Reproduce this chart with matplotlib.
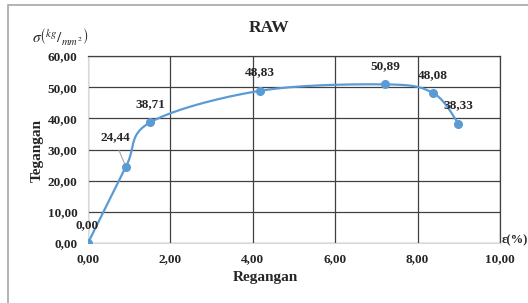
import numpy as np
import matplotlib.pyplot as plt
from matplotlib.ticker import FuncFormatter, MultipleLocator
from matplotlib.patches import Rectangle

# data
strain = [0.00, 0.92, 1.51, 4.17, 7.22, 8.38, 8.99]
stress = [0.00, 24.44, 38.71, 48.83, 50.89, 48.08, 38.33]
labels = ['0,00', '24,44', '38,71', '48,83', '50,89', '48,08', '38,33']
label_offsets = [(-1, 18), (-11, 30), (0, 18), (0, 19), (0, 18), (0, 18), (0, 18)]

blue = '#5B9BD5'
txt = '#262626'
plt.rcParams['font.family'] = ['Liberation Serif', 'DejaVu Serif']
plt.rcParams['mathtext.fontset'] = 'stix'


def smooth(xs, ys, sx, sy, n=30):
    # excel-like smoothed line (catmull-rom bezier in screen scale)
    p = np.column_stack([np.array(xs) * sx, np.array(ys) * sy])
    out = []
    for i in range(len(p) - 1):
        p0 = p[i - 1] if i > 0 else p[i]
        p3 = p[i + 2] if i + 2 < len(p) else p[i + 1]
        c1 = p[i] + (p[i + 1] - p0) / 6
        c2 = p[i + 1] - (p3 - p[i]) / 6
        t = np.linspace(0, 1, n)[:, None]
        seg = (1 - t) ** 3 * p[i] + 3 * (1 - t) ** 2 * t * c1 + 3 * (1 - t) * t ** 2 * c2 + t ** 3 * p[i + 1]
        out.append(seg)
    out = np.vstack(out)
    return out[:, 0] / sx, out[:, 1] / sy


fig = plt.figure(figsize=(5.28, 3.03), dpi=100)
ax = fig.add_axes([88 / 528, 1 - 243 / 303, 412 / 528, 187 / 303])

fig.patches.append(Rectangle((8 / 528, -0.1), 1.2, (303 - 5) / 303 + 0.1, transform=fig.transFigure,
                             fill=False, edgecolor='#a6a6a6', linewidth=1.2))

cx, cy = smooth(strain, stress, 41.2, 3.11)
ax.plot(cx, cy, color=blue, linewidth=1.6, zorder=3)
ax.plot(strain, stress, 'o', color=blue, markersize=5.5, zorder=4)

for x, y, lab, off in zip(strain, stress, labels, label_offsets):
    ax.annotate(lab, (x, y), xytext=off, textcoords='offset pixels', ha='center', va='center',
                fontsize=9.5, fontweight='bold', color=txt, zorder=5)
# leader line for 24,44
ax.annotate('', (strain[1], stress[1]), xytext=(-8, 19), textcoords='offset pixels',
            arrowprops=dict(arrowstyle='-', color='#a6a6a6', lw=0.8))

ax.set_xlim(0, 10)
ax.set_ylim(0, 60)
ax.xaxis.set_major_locator(MultipleLocator(2))
ax.yaxis.set_major_locator(MultipleLocator(10))
fmt = FuncFormatter(lambda v, p: f'{v:.2f}'.replace('.', ','))
ax.xaxis.set_major_formatter(fmt)
ax.yaxis.set_major_formatter(fmt)
ax.tick_params(length=0, labelsize=9.5, colors=txt, pad=7.5)
for t in ax.get_xticklabels() + ax.get_yticklabels():
    t.set_fontweight('bold')

ax.grid(True, color='#404040', linewidth=0.9)
ax.set_axisbelow(True)
for s in ['left', 'bottom']:
    ax.spines[s].set_color('#d9d9d9')
    ax.spines[s].set_zorder(2.5)
for s in ['top', 'right']:
    ax.spines[s].set_color('#404040')
    ax.spines[s].set_linewidth(0.9)

fig.text(269 / 528, 1 - 28 / 303, 'RAW', ha='center', va='center', fontsize=12.5, fontweight='bold', color=txt)
fig.text(265 / 528, 1 - 278 / 303, 'Regangan', ha='center', va='center', fontsize=11, fontweight='bold', color=txt)
fig.text(37 / 528, 1 - 150 / 303, 'Tegangan', ha='center', va='center', rotation=90, fontsize=11,
         fontweight='bold', color=txt)
fig.text(502 / 528, 1 - 240 / 303, 'ε(%)', ha='left', va='center', fontsize=9, fontweight='bold', color=txt)
fig.text(60 / 528, 1 - 37 / 303, r'$\sigma\left(^{kg}/_{mm^2}\right)$', ha='center', va='center',
         fontsize=11, color=txt)

fig.savefig('out.png', dpi=100)
